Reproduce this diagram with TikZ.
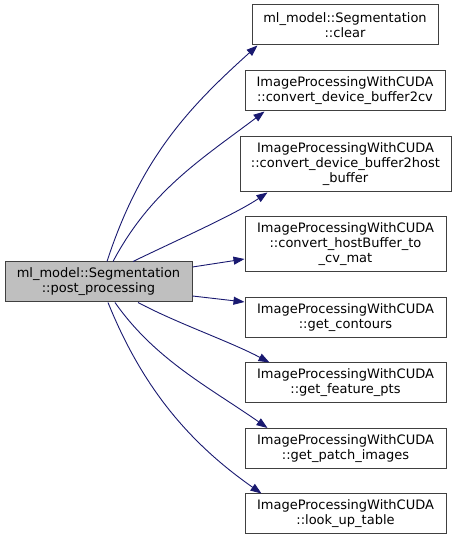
\documentclass[tikz,border=0pt]{standalone}
\usepackage{fontspec}
\setmainfont{DejaVu Sans}
\usetikzlibrary{arrows.meta}
\definecolor{edgeblue}{HTML}{191970}
\definecolor{boxline}{HTML}{404040}
\definecolor{boxfill}{HTML}{BFBFBF}
\begin{document}
\begin{tikzpicture}[
        x=1pt, y=1pt,
        box/.style={draw=boxline, line width=1pt, align=center, inner sep=0pt, minimum width=201pt, minimum height=40pt, font=\fontsize{13}{15}\selectfont},
        arrow/.style={-{Triangle[length=11pt,width=8pt]}, draw=edgeblue, line width=0.9pt}
      ]
      \useasboundingbox (0,0) rectangle (456,540);
      \node[box, fill=boxfill, minimum width=187pt] (post) at (98.5,258) {ml\_model::Segmentation\\::post\_processing};
      \node[box, minimum width=186pt] (clear) at (345,515) {ml\_model::Segmentation\\::clear};
      \node[box, minimum width=200pt] (cv) at (345,449) {ImageProcessingWithCUDA\\::convert\_device\_buffer2cv};
      \node[box, minimum width=211pt, minimum height=55pt] (host) at (345.5,375.5) {ImageProcessingWithCUDA\\::convert\_device\_buffer2host\\\_buffer};
      \node[box, minimum height=55pt] (hostbuf) at (345.5,295.5) {ImageProcessingWithCUDA\\::convert\_hostBuffer\_to\\\_cv\_mat};
      \node[box] (contours) at (345.5,222) {ImageProcessingWithCUDA\\::get\_contours};
      \node[box] (feature) at (345.5,157) {ImageProcessingWithCUDA\\::get\_feature\_pts};
      \node[box] (patch) at (345.5,91.5) {ImageProcessingWithCUDA\\::get\_patch\_images};
      \node[box] (lut) at (345.5,26) {ImageProcessingWithCUDA\\::look\_up\_table};

      \draw[arrow] ([xshift=8.5pt]post.north) .. controls +(72:110) and +(222:90) .. ([xshift=6pt]clear.south west);
      \draw[arrow] ([xshift=14.5pt]post.north) .. controls +(62:80) and +(217:80) .. ([xshift=20pt]cv.south west);
      \draw[arrow] ([xshift=34.5pt]post.north) .. controls +(26:45) and +(214:40) .. ([xshift=28pt]host.south west);
      \draw[arrow] ([yshift=15pt]post.east) -- ([yshift=-14.5pt]hostbuf.west);
      \draw[arrow] ([yshift=-14pt]post.east) -- ([yshift=16pt]contours.west);
      \draw[arrow] ([xshift=39.5pt]post.south) .. controls +(-28:45) and +(152:45) .. ([xshift=25pt]feature.north west);
      \draw[arrow] ([xshift=16.5pt]post.south) .. controls +(-55:70) and +(145:70) .. ([xshift=23pt]patch.north west);
      \draw[arrow] ([xshift=9.5pt]post.south) .. controls +(-68:90) and +(145:90) .. ([xshift=17pt]lut.north west);
    \end{tikzpicture}
\end{document}
